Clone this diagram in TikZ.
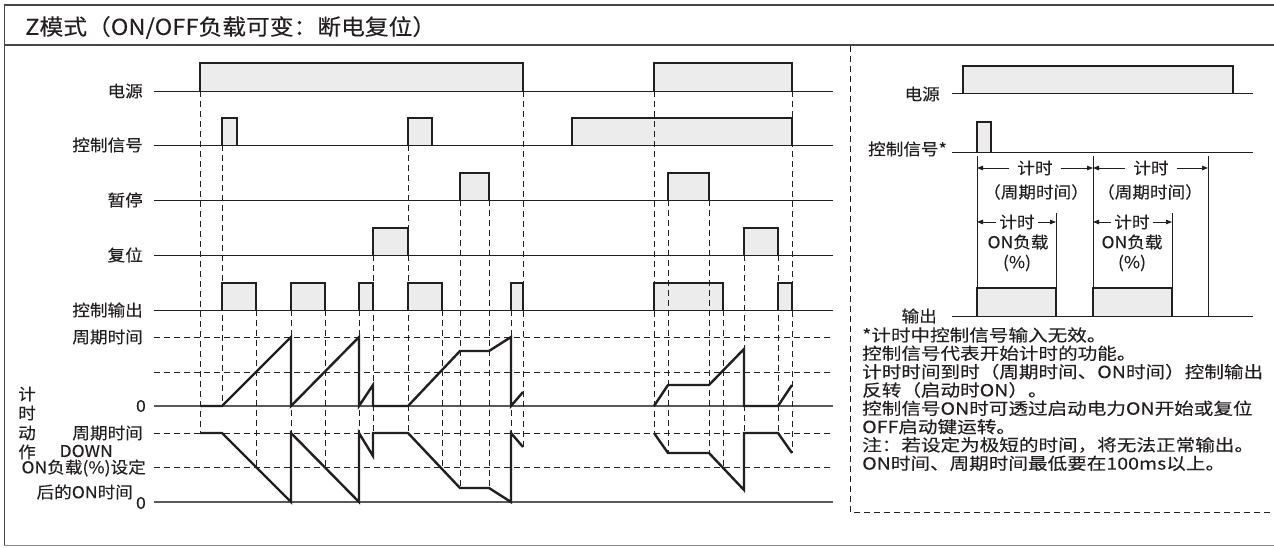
\documentclass[tikz,border=0pt]{standalone}
\usepackage{fontspec}
\setmainfont{Noto Sans CJK SC}[FakeStretch=1.08,FakeBold=0.1]
\newfontfamily\notefont{Noto Sans CJK SC}[FakeStretch=1.18,FakeBold=0.1]
\usetikzlibrary{arrows.meta}
\definecolor{ink}{HTML}{231F20}
\definecolor{pgray}{HTML}{ECECEC}
\definecolor{zgray}{HTML}{5A5858}
\definecolor{frm}{HTML}{4A4444}
\definecolor{bfrm}{HTML}{8A8888}
\newcommand\mypulse[5][2.6pt]{%
  \fill[pgray] (#2,#4) rectangle (#3,#5);
  \draw[pedge] (#2,#4) -- (#2,#5) (#3,#5) -- (#3,#4);
  \draw[line width=#1,draw=ink] (#2-0.55,#5) -- (#3+0.55,#5);
}
\begin{document}
\begin{tikzpicture}[x=1pt,y=-1pt,
  pedge/.style={line width=1.1pt,draw=ink},
  sig/.style={line width=1pt,draw=ink},
  zl/.style={line width=1.4pt,draw=zgray},
  dsh/.style={line width=0.9pt,draw=ink,dash pattern=on 6pt off 4pt},
  tl/.style={line width=2.4pt,draw=ink,line join=miter},
  lbl/.style={inner sep=0pt,text=ink,font=\fontsize{16.3}{18}\selectfont},
  note/.style={inner sep=0pt,anchor=west,text=ink,font=\notefont\fontsize{16.6}{18}\selectfont},
  arr/.style={line width=0.9pt,draw=ink,-{Triangle[length=6pt,width=4.5pt]}},
  vl/.style={line width=1pt,draw=ink}]
\useasboundingbox (0,0) rectangle (1274,547);
\fill[white] (0,0) rectangle (1274,547);
% frame
\draw[frm,line width=2pt] (4,5) -- (1274,5);
\draw[frm,line width=2pt] (4,45) -- (1274,45);
\draw[frm,line width=1.6pt] (4.5,5) -- (4.5,546);
\draw[bfrm,line width=1.6pt] (4,545.5) -- (1274,545.5);
\node[anchor=west,inner sep=0pt,text=ink,font=\fontsize{22}{24}\selectfont] (title) at (25,27.5) {Z模式（ON/OFF负载可变：断电复位）};
% separator
\draw[dsh] (850,46) -- (850,512) -- (1274,512);

% ---------- left diagram: pulses ----------
\mypulse{200}{523}{91}{63}
\mypulse{654}{792}{91}{63}
\mypulse{222}{237}{145}{118}
\mypulse{408}{432}{145}{118}
\mypulse{572}{792}{145}{118}
\mypulse{460}{489}{200}{173}
\mypulse{668}{709}{200}{173}
\mypulse{373}{408}{255}{228}
\mypulse{744}{778}{255}{228}
\mypulse{222}{256}{310}{283}
\mypulse{291}{325}{310}{283}
\mypulse{359}{373}{310}{283}
\mypulse{408}{442}{310}{283}
\mypulse{511}{523}{310}{283}
\mypulse{654}{723}{310}{283}
\mypulse{778}{792}{310}{283}
% baselines
\foreach \yy in {91,145,200,255,310} \draw[sig] (154,\yy) -- (833,\yy);
\foreach \yy in {337,372,433,467} \draw[dsh] (154,\yy) -- (833,\yy);
\draw[zl] (154,406) -- (833,406);
\draw[zl] (154,502) -- (833,502);
% dashed verticals
\foreach \xx/\ya/\yb in {200/91/433,222/145/406,256/310/467,291/310/502,325/310/467,
  359/310/502,373/255/456,408/145/433,442/310/467,460/200/488,489/200/488,511/310/502,
  523/91/447,654/91/433,668/200/453,709/200/453,723/310/467,744/255/490,778/255/433,792/91/453}
  \draw[dsh] (\xx,\ya) -- (\xx,\yb);
% timer lines
\draw[tl] (200,406) -- (222,406) -- (291,337) -- (291,406) -- (359,337) -- (359,406)
  -- (373,385) -- (373,406) -- (408,406) -- (460,351) -- (489,351) -- (511,337)
  -- (511,406) -- (523,392);
\draw[tl] (654,406) -- (668,385) -- (709,385) -- (744,349) -- (744,406) -- (778,406) -- (792,385);
\draw[tl] (200,433) -- (222,433) -- (291,502) -- (291,433) -- (359,502) -- (359,433)
  -- (373,456) -- (373,433) -- (408,433) -- (460,488) -- (489,488) -- (511,502)
  -- (511,433) -- (523,447);
\draw[tl] (654,433) -- (668,453) -- (709,453) -- (744,490) -- (744,433) -- (778,433) -- (792,453);
% labels
\node[lbl,anchor=east] (lpow) at (143,91) {电源};
\node[lbl,anchor=east] (lsig) at (143,145) {控制信号};
\node[lbl,anchor=east] (lpause) at (143,200) {暂停};
\node[lbl,anchor=east] (lreset) at (143,255) {复位};
\node[lbl,anchor=east] (lout) at (143,310) {控制输出};
\node[lbl,anchor=east] (lcyc1) at (143,337) {周期时间};
\node[lbl,anchor=east] (lz1) at (146,406) {0};
\node[lbl,anchor=east] (lcyc2) at (143,433) {周期时间};
\node[lbl,anchor=east] (ldown) at (113,451) {DOWN};
\node[lbl,anchor=east] (lonset) at (146,468) {ON负载(\%)设定};
\node[lbl,anchor=east] (lontime) at (133,492) {后的ON时间};
\node[lbl,anchor=east] (lz2) at (146,503) {0};
\node[lbl] (v1) at (27,394) {计};
\node[lbl] (v2) at (27,413) {时};
\node[lbl] (v3) at (27,433) {动};
\node[lbl] (v4) at (27,452) {作};

% ---------- right diagram ----------
\mypulse[2pt]{963}{1233}{93}{66}
\mypulse[1.1pt]{977}{991}{152}{122}
\mypulse[2pt]{977}{1056}{316}{288}
\mypulse[2pt]{1093}{1172}{316}{288}
\foreach \yy in {93,152,316} \draw[sig] (952,\yy) -- (1253,\yy);
\draw[vl] (977,156) -- (977,316);
\draw[vl] (1093,156) -- (1093,316);
\draw[vl] (1208,156) -- (1208,316);
\draw[vl] (1056,213) -- (1056,316);
\draw[vl] (1172,213) -- (1172,316);
\node[lbl,anchor=east] (rpow) at (940,94) {电源};
\node[lbl,anchor=east] (rsig) at (947,149) {控制信号*};
\node[lbl,anchor=east] (rout) at (937,316) {输出};
% timing annotations
\node[lbl] (t1) at (1035,168) {计时};
\node[lbl] (t2) at (1151,168) {计时};
\node[lbl] (c1) at (1036,192) {（周期时间）};
\node[lbl] (c2) at (1150,192) {（周期时间）};
\node[lbl] (s1) at (1017,222) {计时};
\node[lbl] (s2) at (1132,222) {计时};
\node[lbl] (o1) at (1018,242) {ON负载};
\node[lbl] (o2) at (1132,242) {ON负载};
\node[lbl] (p1) at (1017,263) {(\%)};
\node[lbl] (p2) at (1132,263) {(\%)};
\coordinate (a1) at (977,168); \coordinate (a2) at (1093,168); \coordinate (a3) at (1208,168);
\coordinate (b1) at (977,222); \coordinate (b2) at (1056,222);
\coordinate (b3) at (1093,222); \coordinate (b4) at (1172,222);
\draw[arr] ([xshift=-8pt]t1.west) -- (a1);
\draw[arr] ([xshift=8pt]t1.east) -- (a2);
\draw[arr] ([xshift=-8pt]t2.west) -- (a2);
\draw[arr] ([xshift=8pt]t2.east) -- (a3);
\draw[arr] ([xshift=-3pt]s1.west) -- (b1);
\draw[arr] ([xshift=3pt]s1.east) -- (b2);
\draw[arr] ([xshift=-3pt]s2.west) -- (b3);
\draw[arr] ([xshift=3pt]s2.east) -- (b4);
% notes
\node[note] (n1) at (862,335) {*计时中控制信号输入无效。};
\node[note] (n2) at (862,353.3) {控制信号代表开始计时的功能。};
\node[note] (n3) at (862,371.7) {计时时间到时（周期时间、ON时间）控制输出};
\node[note] (n4) at (862,390) {反转（启动时ON）。};
\node[note] (n5) at (862,408.3) {控制信号ON时可透过启动电力ON开始或复位};
\node[note] (n6) at (862,426.7) {OFF启动键运转。};
\node[note] (n7) at (862,445) {注：若设定为极短的时间，将无法正常输出。};
\node[note] (n8) at (862,463.3) {ON时间、周期时间最低要在100ms以上。};
\end{tikzpicture}
\end{document}
